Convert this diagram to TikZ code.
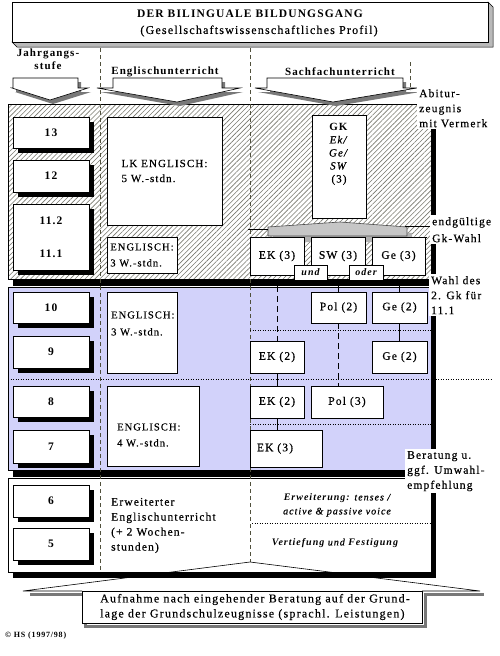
\documentclass[tikz,border=0pt]{standalone}
\usepackage{fontspec}
\setmainfont{Liberation Serif}[LetterSpace=10, UprightFeatures={FakeBold=0.4}, ItalicFeatures={FakeBold=0.4}]
\usetikzlibrary{patterns.meta,shadows}
\definecolor{lav}{RGB}{210,210,250}
\definecolor{hatchc}{RGB}{120,120,110}
\definecolor{sepc}{RGB}{80,80,60}
\definecolor{arrshadow}{RGB}{120,120,120}
\begin{document}
\begin{tikzpicture}[x=1pt,y=-1pt,
  font=\fontsize{11.5}{15}\selectfont,
  bx/.style={draw, fill=white, line width=0.6pt, inner sep=2pt},
  yr/.style={bx, font=\fontsize{11.5}{15}\selectfont\bfseries, minimum width=76pt,
     drop shadow={shadow xshift=5pt,shadow yshift=-5pt,fill=black,opacity=1}},
  sf/.style={bx, minimum height=31pt},
  txt/.style={inner sep=0pt, align=left},
  sepline/.style={sepc, line width=0.7pt, dash pattern=on 4pt off 3pt},
  dotline/.style={black, line width=0.7pt, dash pattern=on 1pt off 1.5pt},
  longdash/.style={line width=0.7pt, dash pattern=on 6pt off 4pt},
  conn/.style={line width=0.7pt},
  lbl/.style={fill=white, inner sep=2pt, align=left, anchor=north west, font=\fontsize{11.5}{15}\selectfont},
  downarrow/.style={fill=white, draw=black, line width=0.6pt},
  arrshad/.style={fill=arrshadow},
  hdr/.style={font=\fontsize{11}{13}\selectfont\bfseries},
]
\useasboundingbox (0,0) rectangle (500,656);
\fill[white] (0,0) rectangle (500,656);

% ---------- title ----------
\filldraw[fill=gray!55, draw=black, line width=0.5pt] (12,42) -- (17,47) -- (493,47) -- (493,7) -- (488,2) -- (488,42) -- cycle;
\node[draw, fill=white, line width=0.6pt, minimum width=476pt, minimum height=40pt, inner sep=0pt] (titlebox) at (250,22) {};
\node[font=\fontsize{11.5}{13}\selectfont\bfseries] (title) at (250,14) {DER BILINGUALE BILDUNGSGANG};
\node[font=\fontsize{12}{14}\selectfont] (subtitle) at (259,31) {(Gesellschaftswissenschaftliches Profil)};

% ---------- headers ----------
\node[align=center, hdr] (hjahr) at (48,59.5) {Jahrgangs-\\stufe};
\node[hdr] (hengl) at (165,72) {Englischunterricht};
\node[hdr] (hsach) at (340,72) {Sachfachunterricht};

% ---------- regions ----------
% upper (hatched)
\fill (13,279) rectangle (436,286);
\fill (431,109) rectangle (436,286);
\fill[white] (8,104) rectangle (431,279);
\fill[pattern={Lines[angle=45,distance=3.5pt,line width=0.6pt]}, pattern color=hatchc] (8,104) rectangle (431,279);
\draw[line width=0.6pt] (8,104) rectangle (431,279);
% middle (blue)
\fill (13,470) rectangle (436,477);
\fill (431,291) rectangle (436,477);
\filldraw[fill=lav, draw=black, line width=0.6pt] (8,287) rectangle (431,470);
% lower (white)
\fill (13,572) rectangle (436,578);
\fill (431,483) rectangle (436,578);
\filldraw[fill=white, draw=black, line width=0.6pt] (8,478) rectangle (431,572);

% ---------- column separators ----------
\draw[sepline] (100,48) -- (100,572);
\draw[sepline] (250,48) -- (250,562);
\draw[sepline] (410,62) -- (410,90);

% ---------- header arrows ----------
\fill[arrshad, shift={(3,4)}] (13,78) -- (78,78) -- (78,88) -- (88,88) -- (50,100) -- (12,88) -- (13,88) -- cycle;
\filldraw[downarrow] (13,78) -- (78,78) -- (78,88) -- (88,88) -- (50,100) -- (12,88) -- (13,88) -- cycle;
\fill[arrshad, shift={(3,4)}] (113,78) -- (222,78) -- (222,88) -- (240,88) -- (177,102) -- (97,88) -- (113,88) -- cycle;
\filldraw[downarrow] (113,78) -- (222,78) -- (222,88) -- (240,88) -- (177,102) -- (97,88) -- (113,88) -- cycle;
\fill[arrshad, shift={(3,4)}] (267,78) -- (403,78) -- (403,88) -- (417,88) -- (333,102) -- (255,88) -- (267,88) -- cycle;
\filldraw[downarrow] (267,78) -- (403,78) -- (403,88) -- (417,88) -- (333,102) -- (255,88) -- (267,88) -- cycle;

% ---------- dotted lines ----------
\draw[dotline] (250,330) -- (431,330);
\draw[dotline] (8,379) -- (493,379);
\draw[dotline] (250,424) -- (431,424);
\draw[dotline] (252,523) -- (430,523);

% ---------- year boxes ----------
\node[yr, minimum height=31pt] (y13) at (51,132.5) {13};
\node[yr, minimum height=32pt] (y12) at (51,176) {12};
\node[yr, minimum height=66pt, align=center] (y11) at (51,237) {11.2\\[18pt]11.1};
\node[yr, minimum height=31pt] (y10) at (51,307.5) {10};
\node[yr, minimum height=32pt] (y9) at (51,352) {9};
\node[yr, minimum height=31pt] (y8) at (51,401.5) {8};
\node[yr, minimum height=33pt] (y7) at (51,446.5) {7};
\node[yr, minimum height=32pt] (y6) at (51,501) {6};
\node[yr, minimum height=32pt] (y5) at (51,544) {5};

% ---------- English boxes ----------
\node[bx, minimum width=115pt, minimum height=108pt, align=left, font=\fontsize{11}{15}\selectfont] (lk) at (164.5,171) {LK ENGLISCH:\\5 W.-stdn.};
\node[bx, minimum width=70pt, minimum height=36pt, align=left, inner sep=1pt, font=\fontsize{10.5}{16}\selectfont] (e3o) at (142,255) {ENGLISCH:\\3 W.-stdn.};
\node[bx, minimum width=70pt, minimum height=81pt] (e3b) at (142,332.5) {};
\node[txt, anchor=west, font=\fontsize{10.5}{17}\selectfont] (e3bt) at (111,323.5) {ENGLISCH:\\3 W.-stdn.};
\node[bx, minimum width=92pt, minimum height=80pt] (e4) at (153,426) {};
\node[txt, anchor=west, font=\fontsize{10.5}{16}\selectfont] (e4t) at (117,435) {ENGLISCH:\\4 W.-stdn.};

% ---------- Sachfach boxes ----------
\node[bx, minimum width=54pt, minimum height=103pt] (gk) at (339,166.5) {};
\node[align=center, inner sep=0pt, font=\fontsize{11}{13}\selectfont] (gkt) at (339,154) {\textbf{GK}\\\textit{Ek/}\\\textit{Ge/}\\\textit{SW}\\(3)};

% endgueltige Gk-Wahl bar
\fill[gray!60, shift={(5,6)}] (268,236) -- (268,227) -- (340,222) -- (407,227) -- (407,236) -- cycle;
\filldraw[fill=gray!45, draw=black!70, line width=0.6pt] (268,236) -- (268,227) -- (340,222) -- (407,227) -- (407,236) -- cycle;
\coordinate (barL) at (268,229);
\coordinate (barLend) at (248,229);
\draw[conn] (barL) -- (barLend);

\node[bx, minimum width=54pt, minimum height=38pt] (ek3) at (277,256) {EK (3)};
\node[bx, minimum width=54pt, minimum height=38pt] (sw3) at (338,256) {SW (3)};
\node[bx, minimum width=53pt, minimum height=38pt] (ge3) at (398.5,256) {Ge (3)};
\node[bx, minimum width=33pt, minimum height=15pt, inner sep=0pt, font=\fontsize{10}{11}\selectfont\bfseries\itshape] (und) at (310.5,272.5) {und};
\node[bx, minimum width=34pt, minimum height=15pt, inner sep=0pt, font=\fontsize{10}{11}\selectfont\bfseries\itshape] (oder) at (366,272.5) {oder};

\node[sf] (pol2) at (338.5,307.5) [minimum width=55pt] {Pol (2)};
\node[sf] (ge2a) at (399.5,307.5) [minimum width=55pt] {Ge (2)};
\node[sf] (ek2a) at (277,357) [minimum width=54pt, minimum height=32pt] {EK (2)};
\node[sf] (ge2b) at (399.5,357) [minimum width=55pt, minimum height=32pt] {Ge (2)};
\node[sf] (ek2b) at (277,402) [minimum width=54pt, minimum height=32pt] {EK (2)};
\node[sf] (pol3) at (347,402) [minimum width=72pt, minimum height=32pt] {Pol (3)};
\node[bx, minimum height=37pt, inner xsep=7pt, text width=58pt, align=left] (ek3b) at (286,448.5) {EK (3)};

% ---------- connectors ----------
\coordinate (barA) at (277,286);
\coordinate (barB) at (338.5,286);
\coordinate (barC) at (399.5,286);
\draw[longdash] (barA) -- (ek2a.north);
\draw[conn] (barB) -- (pol2.north);
\draw[conn] (barC) -- (ge2a.north);
\draw[longdash] (pol2.south) -- (pol2.south |- pol3.north);
\draw[conn] (ge2a.south) -- (ge2b.north);
\draw[conn] (ek2a.south) -- (ek2b.north);
\draw[conn] (ek2b.south) -- (ek2b.south |- ek3b.north);

% ---------- lower section texts ----------
\node[txt, anchor=west] (erwe) at (111,525.5) {Erweiterter\\Englischunterricht\\(+ 2 Wochen-\\stunden)};
\node[align=center, inner sep=0pt, font=\fontsize{10}{14}\selectfont\itshape] (erw) at (337,505) {\textbf{Erweiterung:} tenses /\\active \& passive voice};
\node[inner sep=0pt, font=\fontsize{10}{12}\selectfont\itshape] (vert) at (335,543) {\textbf{Vertiefung} und \textbf{Festigung}};

% ---------- right labels ----------
\node[lbl] (abi) at (417,87) {Abitur-\\zeugnis\\mit Vermerk};
\node[lbl, font=\fontsize{11.5}{17}\selectfont] (egw) at (430,215) {endgültige\\Gk-Wahl};
\coordinate (barR1) at (405,226);
\coordinate (barR2) at (409,237);
\draw[conn] (barR1) -- (barR1 -| egw.west);
\draw[conn] (barR2) -- (427,237);
\node[lbl] (wahl) at (429,274) {Wahl des\\2. Gk für\\11.1};
\node[lbl] (ber) at (405,449) {Beratung u.\\ggf. Umwahl-\\empfehlung};

% ---------- bottom arrow ----------
\draw[arrshadow, line width=3pt] (30,594) -- (85,594) -- (85,626) -- (425,626) -- (425,594) -- (484,594);
\draw[line width=0.6pt, fill=white] (82,591) -- (82,623) -- (422,623) -- (422,591) -- cycle;
\draw[line width=0.6pt] (82,591) -- (23,591) -- (250,562) -- (480,591) -- (422,591);
\node[txt, anchor=west, font=\fontsize{12}{15}\selectfont] (aufn) at (100,607) {Aufnahme nach eingehender Beratung auf der Grund-\\lage der Grundschulzeugnisse (sprachl. Leistungen)};

% ---------- copyright ----------
\node[txt, anchor=west, font=\fontsize{8}{9}\selectfont\bfseries] (copy) at (5,636) {© HS (1997/98)};
\end{tikzpicture}
\end{document}
